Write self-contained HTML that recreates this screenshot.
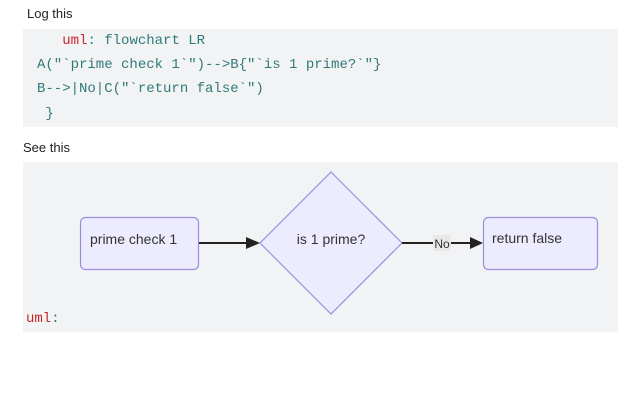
<!DOCTYPE html>
<html><head><style>
body{margin:0;width:640px;height:400px;background:#fff;position:relative;font-family:"Liberation Sans",sans-serif;overflow:hidden}
.t{position:absolute;font-size:13px;color:#222}
.code{position:absolute;left:23px;top:29px;width:595px;height:98px;background:#f2f3f5}
.l{position:absolute;font-family:"Liberation Mono",monospace;font-size:14px;color:#2f7a78;white-space:pre}
.r{color:#c62828}
.g{position:absolute;left:23px;top:162px;width:595px;height:170px;background:#f2f3f5}
</style></head><body>
<div class="t" style="left:27px;top:6px">Log this</div>
<div class="code"></div>
<div class="l" style="left:37px;top:33px">   <span class="r">uml</span>: flowchart LR</div>
<div class="l" style="left:37px;top:57px">A("`prime check 1`")-->B{"`is 1 prime?`"}</div>
<div class="l" style="left:37px;top:81px">B-->|No|C("`return false`")</div>
<div class="l" style="left:37px;top:106px"> }</div>
<div class="t" style="left:23px;top:140px">See this</div>
<div class="g"></div>
<svg style="position:absolute;left:0;top:0" width="640" height="400">
<rect x="80.5" y="217.5" width="118" height="52" rx="5" fill="#ececfe" stroke="#9a8ee0" stroke-width="1.2"/>
<polygon points="331,172 402,243 331,314 260,243" fill="#ececfe" stroke="#9a8ee0" stroke-width="1.2"/>
<rect x="483.5" y="217.5" width="114" height="52" rx="5" fill="#ececfe" stroke="#9a8ee0" stroke-width="1.2"/>
<line x1="199" y1="243" x2="248" y2="243" stroke="#222" stroke-width="2"/>
<polygon points="246,237 260,243 246,249" fill="#222"/>
<line x1="402" y1="243" x2="472" y2="243" stroke="#222" stroke-width="2"/>
<polygon points="470,237 483,243 470,249" fill="#222"/>
<rect x="433" y="235" width="18" height="16" fill="#e8e8e8"/>
<text x="442" y="248" font-size="12" text-anchor="middle" fill="#333" font-family="Liberation Sans">No</text>
<text x="90" y="244" font-size="14" fill="#333" font-family="Liberation Sans">prime check 1</text>
<text x="331" y="244" font-size="14" fill="#333" text-anchor="middle" font-family="Liberation Sans">is 1 prime?</text>
<text x="492" y="243" font-size="14" fill="#333" font-family="Liberation Sans">return false</text>
</svg>
<div class="l" style="left:26px;top:311px"><span class="r">uml</span>:</div>
</body></html>
